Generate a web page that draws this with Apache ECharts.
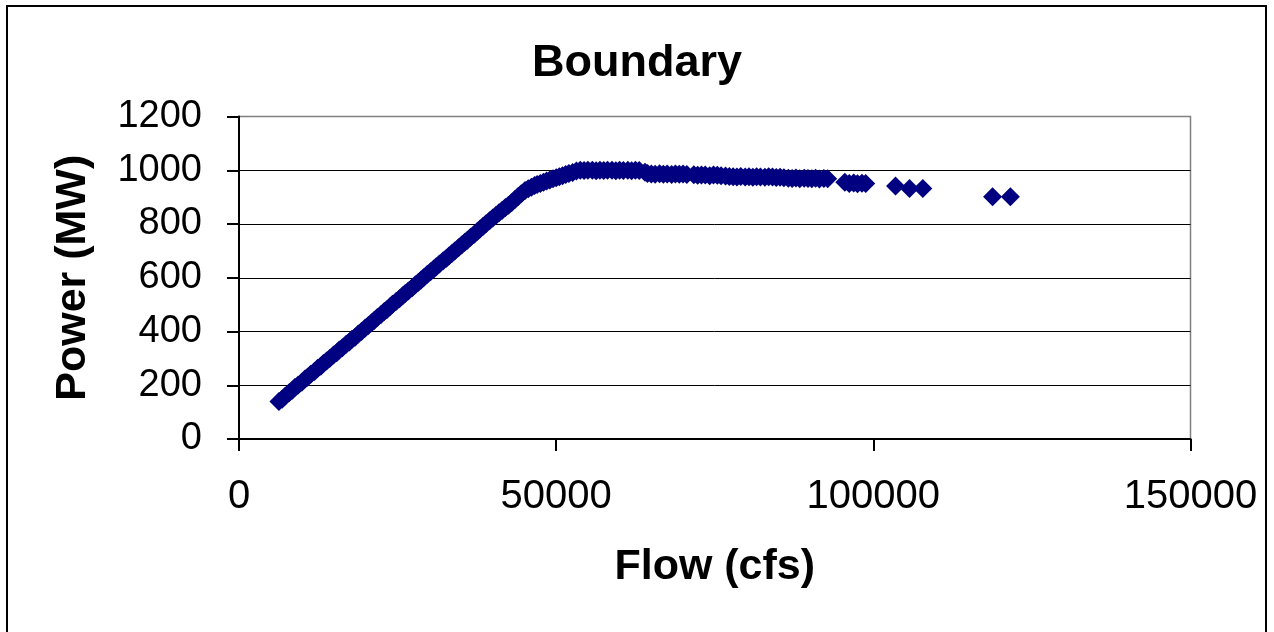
<!DOCTYPE html>
<html>
<head>
<meta charset="utf-8">
<script src="https://cdn.jsdelivr.net/npm/echarts@6/dist/echarts.min.js"></script>
<style>
html,body{margin:0;padding:0;background:#fff;}
#chart{width:1274px;height:632px;}
</style>
</head>
<body>
<div id="chart"></div>
<script>
// Flow (cfs) values
var flow = [
  6300, 6800, 7300, 7900, 8400, 8800, 9300, 9900, 10400, 10800,
  11300, 11900, 12400, 12900, 13300, 13800, 14300, 14900, 15400, 15800,
  16300, 16900, 17400, 17800, 18300, 18800, 19300, 19900, 20400, 20900,
  21300, 21800, 22400, 22900, 23300, 23800, 24200, 24800, 25300, 25800,
  26200, 26700, 27300, 27800, 28300, 28700, 29100, 29700, 30200, 30700,
  31100, 31600, 32200, 32700, 33100, 33600, 34000, 34600, 35100, 35600,
  36000, 36500, 37100, 37600, 38000, 38500, 38900, 39500, 40000, 40500,
  41000, 41500, 42000, 42500, 43000, 43500, 44000, 44500, 45100, 45600,
  46100, 46600, 47000, 47500, 48000, 48500, 49000, 49500, 50000, 50500,
  51000, 51500, 52000, 52600, 53200,
  53800, 54400, 55000, 55700, 56300, 56900, 57500, 58100, 58800, 59400,
  60000, 60600, 61300, 61900, 62500, 63100,
  64000, 64400, 65000, 65600, 66300, 66900, 67500, 68200, 68800, 69400, 70000, 70600,
  71700, 72300, 72900, 73500, 74200, 74800, 75400, 76000, 76700,
  77300, 77900, 78500, 79100, 79800, 80400, 81000, 81600, 82200, 82900, 83500, 84100, 84700, 85300,
  85900, 86600, 87200, 87800, 88400, 89100, 89700, 90300, 90900, 91500, 92200, 92800,
  95500, 96200, 96900, 97500, 98200, 98800,
  103500, 105700, 107800,
  118800, 121600
];
// Power (MW) values
var power = [
  140, 148, 160, 172, 181, 192, 200, 211, 223, 230,
  241, 251, 263, 271, 281, 290, 300, 313, 321, 331,
  340, 353, 361, 371, 379, 391, 400, 413, 422, 433,
  441, 452, 463, 474, 481, 492, 501, 513, 522, 533,
  541, 551, 563, 574, 583, 592, 600, 613, 622, 633,
  641, 651, 663, 673, 681, 691, 700, 712, 722, 732,
  740, 751, 762, 773, 781, 792, 800, 812, 822, 832,
  842, 851, 861, 870, 880, 891, 902, 913, 925, 931,
  937, 943, 947, 951, 955, 960, 964, 968, 972, 976,
  980, 984, 988, 992, 997,
  1000, 999, 1000, 1000, 998, 1000, 999, 1000, 1000, 998,
  1000, 999, 1000, 998, 1000, 999,
  993, 988, 986, 985, 987, 985, 986, 984, 986, 985, 986, 984,
  983, 981, 982, 982, 980, 982, 981, 980, 979,
  977, 976, 975, 977, 975, 976, 974, 976, 975, 974, 976, 975, 973, 974,
  972, 970, 969, 971, 968, 970, 969, 968, 970, 967, 969, 968,
  955, 951, 953, 950, 952, 951,
  941, 932, 932,
  901, 901
];
var xTicks = [0, 50000, 100000, 150000];
var yTicks = [0, 200, 400, 600, 800, 1000, 1200];

var FONT = "'Liberation Sans', Arial, sans-serif";
var points = flow.map(function (f, i) { return [f, power[i]]; });
var plain = function (v) { return String(v); };

var chart = echarts.init(document.getElementById('chart'), null, {renderer: 'canvas'});
chart.setOption({
  animation: false,
  backgroundColor: '#ffffff',
  title: {
    text: 'Boundary',
    left: 'center',
    top: 36,
    textStyle: {fontFamily: FONT, fontSize: 45, fontWeight: 'bold', color: '#000'}
  },
  graphic: [{
    type: 'rect',
    shape: {x: 7, y: 6, width: 1259, height: 660},
    style: {fill: 'none', stroke: '#000', lineWidth: 2},
    silent: true,
    z: 100
  }],
  grid: {
    left: 239, right: 83.5, top: 116.5, bottom: 193,
    show: true, borderColor: '#808080', borderWidth: 1.5,
    backgroundColor: '#ffffff',
    containLabel: false,
    outerBoundsMode: 'none'
  },
  xAxis: {
    type: 'value',
    min: xTicks[0], max: xTicks[xTicks.length - 1], interval: xTicks[1] - xTicks[0],
    name: 'Flow (cfs)',
    nameLocation: 'middle',
    nameGap: 107,
    nameTextStyle: {fontFamily: FONT, fontSize: 43, fontWeight: 'bold', color: '#000'},
    axisLine: {show: true, lineStyle: {color: '#000', width: 2}},
    axisTick: {show: true, inside: false, length: 12, lineStyle: {color: '#000', width: 2}},
    axisLabel: {fontFamily: FONT, fontSize: 40, color: '#000', margin: 38, formatter: plain},
    splitLine: {show: false}
  },
  yAxis: {
    type: 'value',
    min: yTicks[0], max: yTicks[yTicks.length - 1], interval: yTicks[1] - yTicks[0],
    name: 'Power (MW)',
    nameLocation: 'middle',
    nameGap: 144,
    nameTextStyle: {fontFamily: FONT, fontSize: 43, fontWeight: 'bold', color: '#000'},
    axisLine: {show: true, lineStyle: {color: '#000', width: 2}},
    axisTick: {show: true, inside: false, length: 12, lineStyle: {color: '#000', width: 2}},
    axisLabel: {fontFamily: FONT, fontSize: 38, color: '#000', margin: 37, formatter: plain},
    splitLine: {show: true, showMinLine: false, showMaxLine: false, lineStyle: {color: '#000', width: 1}}
  },
  series: [{
    type: 'scatter',
    data: points,
    symbol: 'diamond',
    symbolSize: 19,
    itemStyle: {color: '#000080', opacity: 1},
    emphasis: {disabled: true}
  }]
});
</script>
</body>
</html>
